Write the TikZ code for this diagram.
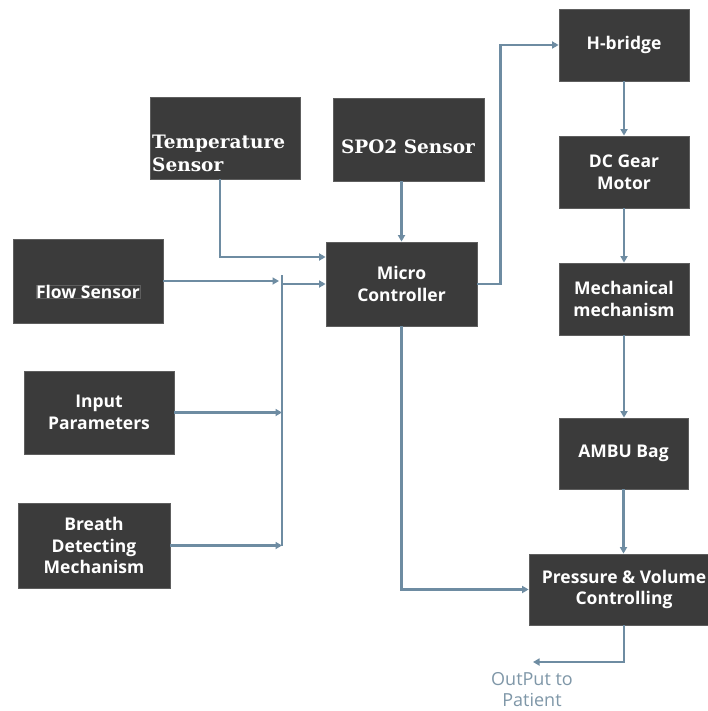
\documentclass[tikz,border=0pt]{standalone}
\usepackage{fontspec}
\newfontfamily\boxfont{Open Sans}
\newfontfamily\serfont{DejaVu Serif}
\usetikzlibrary{arrows.meta,calc}
\definecolor{boxfill}{HTML}{3B3B3B}
\definecolor{boxline}{HTML}{5E5E5E}
\definecolor{conncol}{HTML}{6E8CA2}
\definecolor{outcol}{HTML}{7F97A8}
\tikzset{
  blk/.style={draw=boxline, line width=0.8pt, fill=boxfill, inner sep=0pt, text=white,
    align=center, font=\boxfont\bfseries\fontsize{17.5}{21.5}\selectfont},
  serlbl/.style={text=white, inner sep=0pt, font=\serfont\bfseries\fontsize{18.5}{23}\selectfont},
  conn/.style={draw=conncol, line width=2.3pt, -{Triangle[length=6.5pt,width=7pt]}},
  plain/.style={draw=conncol, line width=2.3pt},
}
\begin{document}
\begin{tikzpicture}[x=1pt,y=-1pt]
\useasboundingbox (0,0) rectangle (708,711);
\fill[white] (0,0) rectangle (708,711);
% boxes
\node[blk, minimum width=150pt, minimum height=82pt] (temp) at (225,138) {};
\node[serlbl, anchor=west, align=left] (templbl) at (152,153) {Temperature\\Sensor};
\node[blk, minimum width=151pt, minimum height=83pt] (spo) at (408.5,139.5) {};
\node[serlbl] (spolbl) at (408,147) {SPO2 Sensor};
\node[blk, minimum width=151pt, minimum height=84pt] (micro) at (401.5,284) {Micro\\Controller};
\node[blk, minimum width=150pt, minimum height=84pt] (flow) at (88,281) {};
\node[blk] (flowlbl) at (88,292) {Flow Sensor};
\node[blk, minimum width=150pt, minimum height=83pt] (inp) at (99,412.5) {Input\\Parameters};
\node[blk, minimum width=152pt, minimum height=85pt] (breath) at (94,545.5) {Breath\\Detecting\\Mechanism};
\node[blk, minimum width=130pt, minimum height=72pt] (hb) at (624,45) {H-bridge};
\node[blk, minimum width=130pt, minimum height=72pt] (dc) at (624,172) {DC Gear\\Motor};
\node[blk, minimum width=130pt, minimum height=72pt] (mech) at (624,299) {Mechanical\\mechanism};
\node[blk, minimum width=129pt, minimum height=71pt] (ambu) at (623.5,453.5) {AMBU Bag};
\node[blk, minimum width=179pt, minimum height=71pt] (pv) at (618.5,589.5) {};
\node[blk, draw=none, fill=none] (pvlbl) at (624,589.5) {Pressure \& Volume\\Controlling};
% output text
\node[text=outcol, align=center, inner sep=0pt, font=\boxfont\fontsize{18}{21}\selectfont] (out) at (532,690) {OutPut to\\Patient};
\coordinate (outtip) at (533,662);
% bus
\coordinate (busTop) at (282,275);
\coordinate (busBot) at (282,546);
% connectors
\draw[conn] ([xshift=-5pt]temp.south) |- ([yshift=27pt]micro.west);
\draw[conn] (spo.south -| micro.north) -- (micro.north);
\draw[conn] (flow.east) -- ([xshift=-3pt]flow.east -| busTop);
\draw[plain] (busTop) -- (busBot);
\draw[conn] (inp.east) -- (inp.east -| busTop);
\draw[conn] (breath.east) -- (breath.east -| busTop);
\draw[conn] (busTop |- micro.west) -- (micro.west);
\draw[conn] (micro.east) -- ++(23,0) |- (hb.west);
\draw[conn] (hb.south) -- (dc.north);
\draw[conn] (dc.south) -- (mech.north);
\draw[conn] (mech.south) -- (mech.south |- ambu.north);
\draw[conn] (ambu.south) -- (ambu.south |- pv.north);
\draw[conn] (micro.south) |- (pv.west);
\draw[conn] ([xshift=5.5pt]pv.south) |- (outtip);
\end{tikzpicture}
\end{document}
